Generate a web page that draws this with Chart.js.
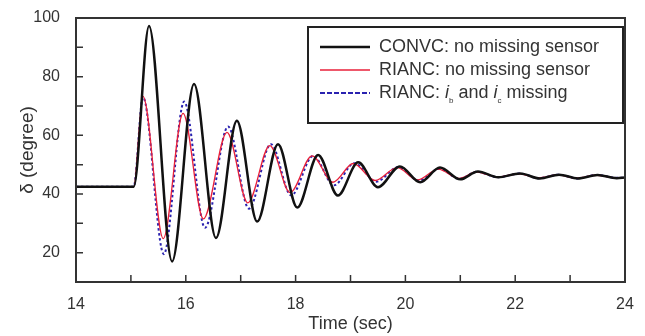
<!DOCTYPE html>
<html>
<head>
<meta charset="utf-8">
<script src="https://cdn.jsdelivr.net/npm/chart.js@4/dist/chart.umd.min.js"></script>
<style>
  html, body { margin: 0; padding: 0; background: #fff; }
  #wrap { width: 645px; height: 336px; }
</style>
</head>
<body>
<div id="wrap"><canvas id="delta"></canvas></div>
<script>
// values (extrema of each trace)
const tConv = [14, 15.05, 15.33, 15.75, 16.15, 16.55, 16.93, 17.3, 17.68, 18.03, 18.41, 18.77, 19.14, 19.5, 19.9, 20.27, 20.63, 21.0, 21.32, 21.69, 22.09, 22.45, 22.8, 23.14, 23.5, 23.85, 24];
const dConv = [42.5, 42.5, 97.3, 17, 77.5, 25, 65, 30.6, 57, 35.4, 53.3, 39.5, 50.8, 42.3, 49.4, 44, 49, 45, 47.7, 45.7, 47, 45.3, 46.6, 45.3, 46.5, 45.4, 45.6];

const tRianc = [14, 15.05, 15.22, 15.59, 15.95, 16.32, 16.75, 17.13, 17.53, 17.9, 18.3, 18.68, 19.05, 19.45, 19.85, 20.22, 20.6, 20.97, 21.3, 21.67, 22.07, 22.43, 22.78, 23.12, 23.48, 23.85, 24];
const dRianc = [42.5, 42.5, 73.3, 24.8, 67.5, 31.5, 61, 37, 56.5, 40.5, 53, 44, 50.4, 44.6, 49, 44.8, 48.5, 45.3, 47.5, 45.8, 46.9, 45.5, 46.5, 45.4, 46.4, 45.5, 45.6];

const tMiss = [14, 15.05, 15.22, 15.6, 15.97, 16.35, 16.77, 17.15, 17.55, 17.92, 18.32, 18.7, 19.07, 19.47, 19.87, 20.24, 20.62, 20.98, 21.31, 21.68, 22.08, 22.44, 22.79, 23.13, 23.49, 23.85, 24];
const dMiss = [42.5, 42.5, 73, 19.5, 71.5, 28.5, 63, 35, 57, 39.5, 53, 43, 50.5, 44.2, 49.2, 44.6, 48.6, 45.2, 47.6, 45.7, 47, 45.4, 46.6, 45.3, 46.5, 45.5, 45.6];

const xTicks = [14, 16, 18, 20, 22, 24];
const yTicks = [20, 40, 60, 80, 100];

const pts = (xs, ys) => xs.map((x, i) => ({ x: x, y: ys[i] }));

const FONT = '"Liberation Sans", Arial, sans-serif';

const frame = {
  id: 'frame',
  afterDatasetsDraw(chart) {
    const { ctx, chartArea: a, scales } = chart;
    ctx.save();
    ctx.strokeStyle = '#333';
    ctx.lineWidth = 1.5;
    ctx.beginPath();
    for (let v = 15; v < 24; v++) {
      const px = scales.x.getPixelForValue(v);
      ctx.moveTo(px, a.bottom);
      ctx.lineTo(px, a.bottom - 7);
    }
    for (let v = 20; v < 100; v += 10) {
      const py = scales.y.getPixelForValue(v);
      ctx.moveTo(a.left, py);
      ctx.lineTo(a.left + 7, py);
    }
    ctx.stroke();
    ctx.lineWidth = 2;
    ctx.strokeRect(a.left, a.top, a.right - a.left, a.bottom - a.top);

    // legend box
    const bx = 308, by = 27, bw = a.right - 2 - bx, bh = 96;
    ctx.fillStyle = '#fff';
    ctx.fillRect(bx, by, bw, bh);
    ctx.lineWidth = 2;
    ctx.strokeStyle = '#222';
    ctx.strokeRect(bx, by, bw, bh);
    ctx.textBaseline = 'middle';
    const rows = [47, 70, 93];
    chart.data.datasets.forEach((ds, i) => {
      const y = rows[i];
      ctx.strokeStyle = ds.borderColor;
      ctx.lineWidth = ds.borderWidth;
      ctx.setLineDash(ds.borderDash ? [5, 2] : []);
      ctx.beginPath();
      ctx.moveTo(320, y);
      ctx.lineTo(370, y);
      ctx.stroke();
      ctx.setLineDash([]);
      ctx.fillStyle = '#333';
      let x = 379;
      const part = (s, f, dy) => { ctx.font = f; ctx.fillText(s, x, y + (dy || 0)); x += ctx.measureText(s).width; };
      if (i === 2) {
        part('RIANC: ', '18px ' + FONT);
        part('i', 'italic 18px ' + FONT);
        part('b', '8px ' + FONT, 8);
        part(' and ', '18px ' + FONT);
        part('i', 'italic 18px ' + FONT);
        part('c', '8px ' + FONT, 8);
        part(' missing', '18px ' + FONT);
      } else {
        part(ds.label, '18px ' + FONT);
      }
    });
    ctx.restore();
  }
};

new Chart(document.getElementById('delta'), {
  type: 'line',
  data: {
    datasets: [
      { label: 'CONVC: no missing sensor', data: pts(tConv, dConv), borderColor: '#111', borderWidth: 2.5 },
      { label: 'RIANC: no missing sensor', data: pts(tRianc, dRianc), borderColor: '#e8203a', borderWidth: 1.3 },
      { label: 'RIANC: ib and ic missing', data: pts(tMiss, dMiss), borderColor: '#2a22b0', borderWidth: 2, borderDash: [2.5, 2.5] }
    ]
  },
  options: {
    responsive: true,
    maintainAspectRatio: false,
    animation: false,
    cubicInterpolationMode: 'monotone',
    elements: { point: { radius: 0 } },
    layout: { padding: { top: 18, right: 20, left: 0, bottom: 0 } },
    plugins: { legend: { display: false }, tooltip: { enabled: false } },
    scales: {
      x: {
        type: 'linear',
        min: 14,
        max: 24,
        afterBuildTicks: s => { s.ticks = xTicks.map(v => ({ value: v })); },
        afterFit: s => { s.height = 54; },
        grid: { display: false },
        border: { display: false },
        ticks: { color: '#333', padding: 5, maxRotation: 0, font: { size: 16, family: FONT } },
        title: { display: true, text: 'Time (sec)', color: '#333', padding: { top: 0, bottom: 1 }, font: { size: 18, family: FONT } }
      },
      y: {
        min: 10,
        max: 100,
        afterBuildTicks: s => { s.ticks = yTicks.map(v => ({ value: v })); },
        afterFit: s => { s.width = 76; },
        grid: { display: false },
        border: { display: false },
        ticks: { color: '#333', padding: 8, font: { size: 16, family: FONT } },
        title: { display: true, text: 'δ (degree)', color: '#333', padding: { top: 16, bottom: 0 }, font: { size: 19, family: FONT } }
      }
    }
  },
  plugins: [frame]
});
</script>
</body>
</html>
